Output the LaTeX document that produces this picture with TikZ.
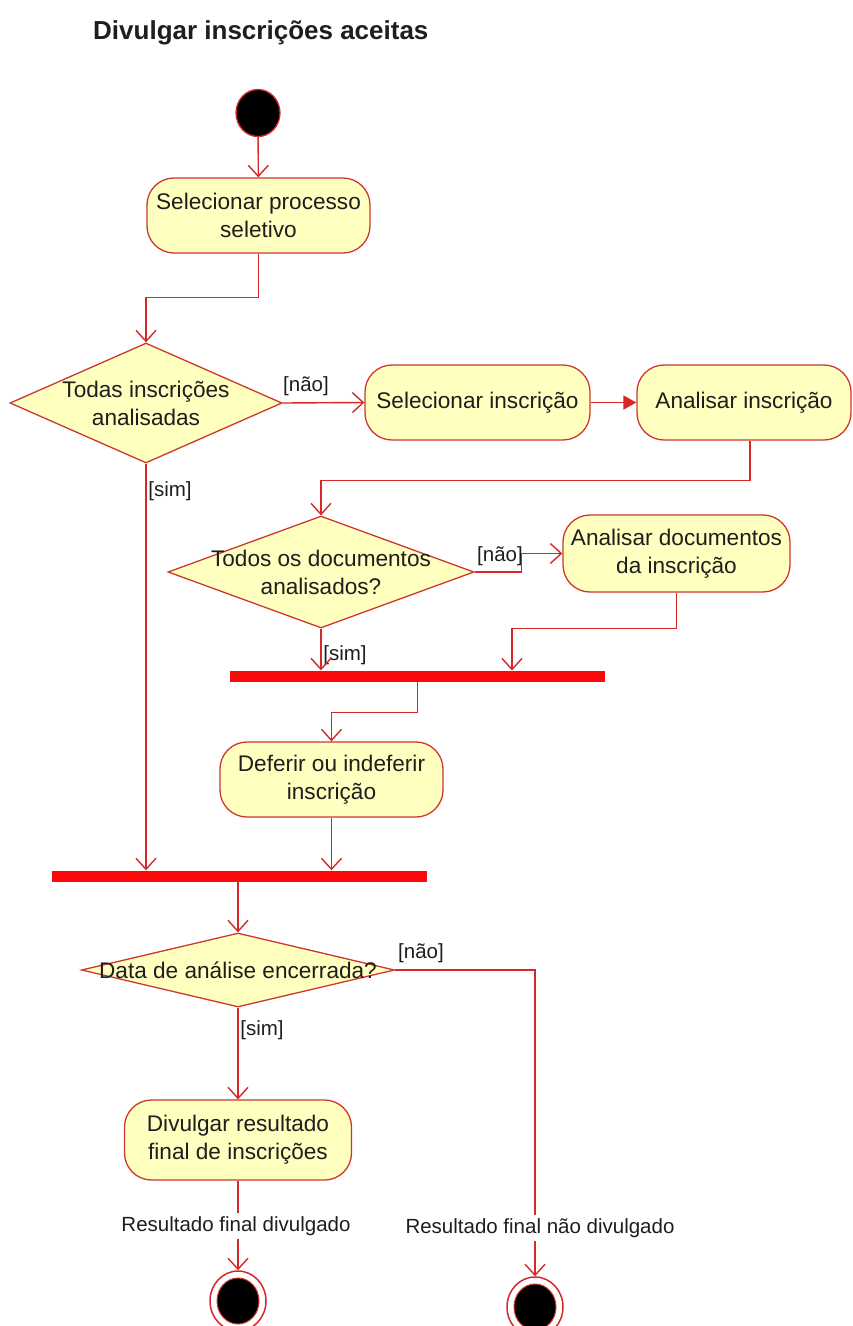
\documentclass[tikz,border=0pt]{standalone}
\usepackage{fontspec}
\setmainfont{Liberation Sans}
\usetikzlibrary{arrows.meta,shapes.geometric,calc}
\definecolor{edgered}{RGB}{214,40,40}
\definecolor{nodered}{RGB}{205,55,45}
\definecolor{actfill}{RGB}{255,255,192}
\definecolor{barred}{RGB}{250,10,10}
\definecolor{ink}{RGB}{30,30,30}
\newcommand\actfont{\fontsize{22.6}{28}\selectfont}
\newcommand\labfont{\fontsize{20.5}{24}\selectfont}
\newcommand\titfont{\fontsize{26}{30}\selectfont\bfseries}

\begin{document}
\begin{tikzpicture}[x=1pt,y=-1pt,
  action/.style={draw=nodered, fill=actfill, line width=1.3pt, rounded corners=27pt,
    align=center, font=\actfont, text=ink, inner sep=0pt},
  decision/.style={diamond, draw=nodered, fill=actfill, line width=1.3pt, inner sep=0pt},
  dtext/.style={align=center, font=\actfont, text=ink, inner sep=0pt},
  bar/.style={fill=barred, inner sep=0pt, minimum height=11pt},
  guard/.style={font=\labfont, text=ink, inner sep=1pt},
  endlabel/.style={font=\labfont, text=ink, fill=white, inner sep=3pt},
  startnode/.style={ellipse, draw=edgered, fill=black, line width=1.3pt,
    minimum width=44pt, minimum height=47pt, inner sep=0pt},
  finalring/.style={ellipse, draw=edgered, fill=white, line width=1.5pt,
    minimum width=56pt, minimum height=60pt, inner sep=0pt},
  finaldot/.style={ellipse, draw=nodered, fill=black, line width=1pt,
    minimum width=42pt, minimum height=46pt, inner sep=0pt},
  line/.style={draw=edgered, line width=1.4pt},
  flow/.style={line, -{Straight Barb[length=11pt,width=20pt,line width=1.4pt]}},
  solidflow/.style={line, -{Triangle[length=13pt,width=14pt]}}]

% page
\fill[white] (0,0) rectangle (853,1326);
\useasboundingbox (0,0) rectangle (853,1326);

% title
\node[font=\titfont, text=ink, anchor=base west, inner sep=0pt] (title) at (93,39)
  {Divulgar inscrições aceitas};

% initial node
\node[startnode] (s0) at (258,113) {};

% actions
\node[action, minimum width=223pt, minimum height=75pt] (a1) at (258.5,215.5)
  {Selecionar processo\\seletivo};
\node[action, minimum width=225pt, minimum height=75pt] (a2) at (477.5,402.5)
  {Selecionar inscrição};
\node[action, minimum width=214pt, minimum height=75pt] (a3) at (744,402.5)
  {Analisar inscrição};
\node[action, minimum width=227pt, minimum height=77pt] (a5) at (676.5,553.5)
  {Analisar documentos\\da inscrição};
\node[action, minimum width=223pt, minimum height=75pt] (a4) at (331.5,779.5)
  {Deferir ou indeferir\\inscrição};
\node[action, minimum width=227pt, minimum height=80pt] (a6) at (238,1140)
  {Divulgar resultado\\final de inscrições};

% decisions
\node[decision, minimum width=272pt, minimum height=120pt] (d1) at (146,403) {};
\node[dtext] at (d1) {Todas inscrições\\analisadas};
\node[decision, minimum width=306pt, minimum height=112pt] (d2) at (321,572) {};
\node[dtext] at (d2) {Todos os documentos\\analisados?};
\node[decision, minimum width=313pt, minimum height=74pt] (d3) at (238,970) {};
\node[dtext] at (d3) {Data de análise encerrada?};

% fork/join bars
\node[bar, minimum width=375pt] (b1) at (417.5,676) {};
\node[bar, minimum width=375pt] (b2) at (239.5,876) {};

% final nodes
\node[finalring] (f1) at (238,1301) {};
\node[finaldot] at (f1) {};
\node[finalring] (f2) at (535,1307) {};
\node[finaldot] at (f2) {};

% guards
\node[guard] (g1) at (306,386) {[não]};
\node[guard] (g2) at (170,491) {[sim]};
\node[guard] (g3) at (500,556) {[não]};
\node[guard] (g4) at (345,655) {[sim]};
\node[guard] (g5) at (421,953) {[não]};
\node[guard] (g6) at (262,1030) {[sim]};

% outcome labels
\node[endlabel] (l1) at (236,1226) {Resultado final divulgado};
\node[endlabel] (l2) at (540,1228) {Resultado final não divulgado};

% helper coordinates
\coordinate (j1) at (512,670.5);
\coordinate (k2) at (535,0);

% control flow
\draw[flow] (s0) -- (a1);
\draw[flow] (a1.south) -- ++(0,44) -| (d1.north);
\draw[flow] (d1.east) -- (a2.west);
\draw[solidflow] (a2.east) -- (a3.west);
\draw[flow] ([xshift=6pt]a3.south) -- ++(0,40) -| (d2.north);
\draw[flow] (d2.east) -- ++(47,0) |- (a5.west);
\draw[flow] (d2.south) -- (d2.south |- b1.north);
\draw[flow] (a5.south) -- ++(0,36) -| (j1);
\draw[flow] (b1.south) -- ++(0,31) -| (a4.north);
\draw[flow] (a4.south) -- (a4.south |- b2.north);
\draw[flow] (d1.south) -- (d1.south |- b2.north);
\draw[flow] (b2.south -| d3.north) -- (d3.north);
\draw[flow] (d3.south) -- (a6.north);
\draw[line] (a6.south) -- (a6.south |- l1.north);
\draw[flow] (f1.north |- l1.south) -- (f1.north);
\draw[line] (d3.east) -| (k2 |- l2.north);
\draw[flow] (f2.north |- l2.south) -- (f2.north);
\end{tikzpicture}
\end{document}
